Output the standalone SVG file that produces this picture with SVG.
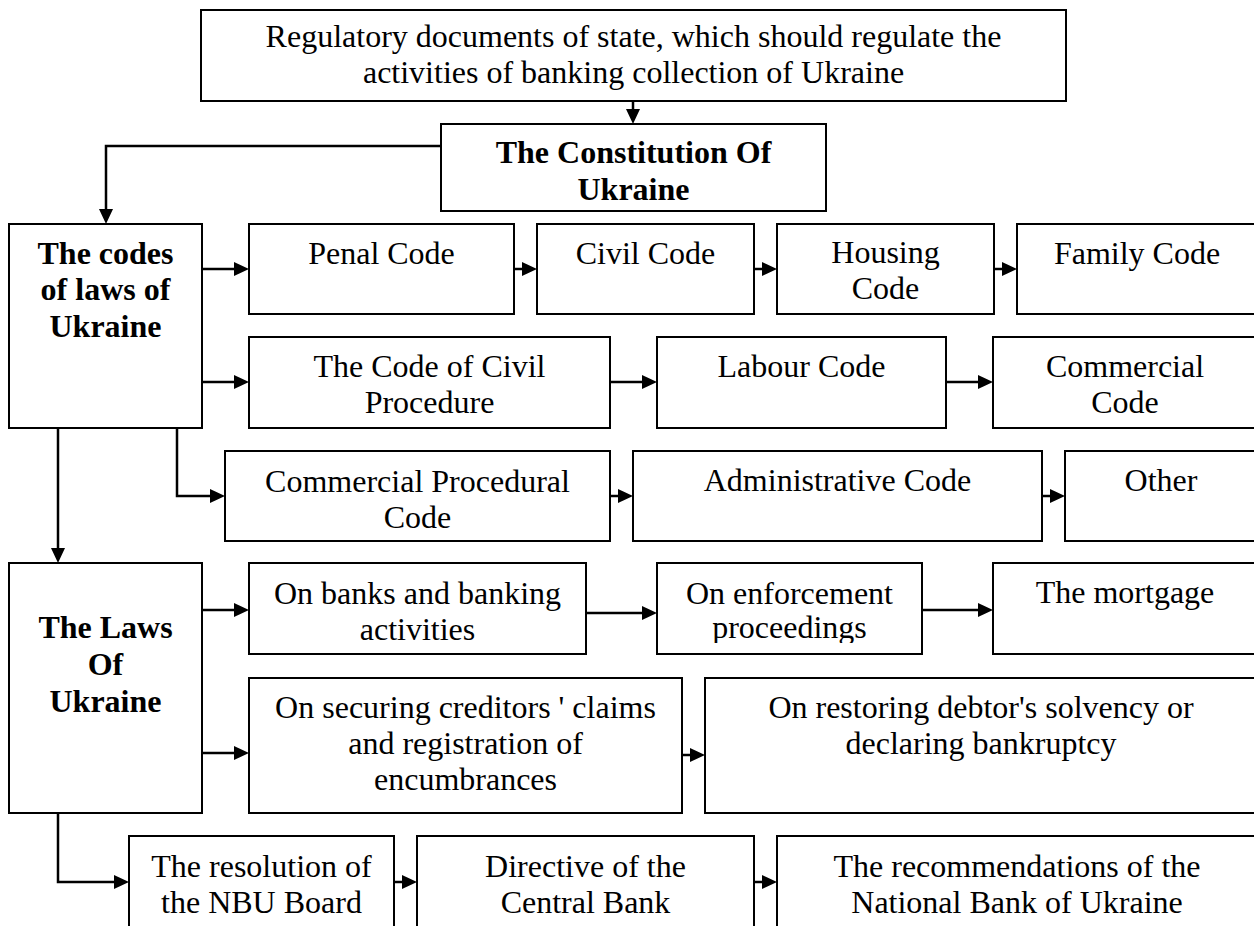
<svg xmlns="http://www.w3.org/2000/svg" width="1254" height="926" viewBox="0 0 1254 926">
<style>
  .box { fill: #fff; stroke: #000; stroke-width: 2; }
  .t { font-family: "Liberation Serif", "Times New Roman", serif; font-size: 32px; fill: #000; text-anchor: middle; }
  .b { font-weight: bold; }
  .c { fill: none; stroke: #000; stroke-width: 2.5; marker-end: url(#ah); }
</style>
<defs>
  <marker id="ah" markerWidth="15" markerHeight="14" refX="5" refY="7" orient="auto" markerUnits="userSpaceOnUse">
    <path d="M0,0 L15,7 L0,14 Z" fill="#000"/>
  </marker>
  <clipPath id="clipEnf"><rect x="657" y="563" width="265" height="80"/></clipPath>
</defs>
<rect width="1254" height="926" fill="#fff"/>

<g id="connectors">
  <path class="c" d="M633,101 V114"/>
  <path class="c" d="M441,146 H106 V214"/>
  <path class="c" d="M202,269 H239"/>
  <path class="c" d="M514,269 H527"/>
  <path class="c" d="M754,269 H767"/>
  <path class="c" d="M994,269 H1007"/>
  <path class="c" d="M202,382 H239"/>
  <path class="c" d="M610,382 H647"/>
  <path class="c" d="M946,382 H983"/>
  <path class="c" d="M177,428 V496 H215"/>
  <path class="c" d="M610,496 H623"/>
  <path class="c" d="M1042,496 H1055"/>
  <path class="c" d="M58,428 V553"/>
  <path class="c" d="M202,610 H239"/>
  <path class="c" d="M586,613 H647"/>
  <path class="c" d="M922,610 H983"/>
  <path class="c" d="M202,753 H239"/>
  <path class="c" d="M682,755 H695"/>
  <path class="c" d="M58,813 V882 H119"/>
  <path class="c" d="M394,882 H407"/>
  <path class="c" d="M754,882 H767"/>
</g>

<g id="n-top">
  <rect class="box" x="201" y="10" width="865" height="91"/>
  <text class="t" x="633.5" y="47">Regulatory documents of state, which should regulate the</text>
  <text class="t" x="633.5" y="83">activities of banking collection of Ukraine</text>
</g>
<g id="n-constitution">
  <rect class="box" x="441" y="124" width="385" height="87"/>
  <text class="t b" x="633.5" y="163">The Constitution Of</text>
  <text class="t b" x="633.5" y="200">Ukraine</text>
</g>
<g id="n-codes">
  <rect class="box" x="9" y="224" width="193" height="204"/>
  <text class="t b" x="105.5" y="264">The codes</text>
  <text class="t b" x="105.5" y="300">of laws of</text>
  <text class="t b" x="105.5" y="337">Ukraine</text>
</g>
<g id="n-penal">
  <rect class="box" x="249" y="224" width="265" height="90"/>
  <text class="t" x="381.5" y="264">Penal Code</text>
</g>
<g id="n-civil">
  <rect class="box" x="537" y="224" width="217" height="90"/>
  <text class="t" x="645.5" y="264">Civil Code</text>
</g>
<g id="n-housing">
  <rect class="box" x="777" y="224" width="217" height="90"/>
  <text class="t" x="885.5" y="263">Housing</text>
  <text class="t" x="885.5" y="299">Code</text>
</g>
<g id="n-family">
  <rect class="box" x="1017" y="224" width="245" height="90"/>
  <text class="t" x="1137" y="264">Family Code</text>
</g>
<g id="n-civil-procedure">
  <rect class="box" x="249" y="337" width="361" height="91"/>
  <text class="t" x="429.5" y="377">The Code of Civil</text>
  <text class="t" x="429.5" y="413">Procedure</text>
</g>
<g id="n-labour">
  <rect class="box" x="657" y="337" width="289" height="91"/>
  <text class="t" x="801.5" y="377">Labour Code</text>
</g>
<g id="n-commercial">
  <rect class="box" x="993" y="337" width="269" height="91"/>
  <text class="t" x="1125" y="377">Commercial</text>
  <text class="t" x="1125" y="413">Code</text>
</g>
<g id="n-commercial-procedural">
  <rect class="box" x="225" y="451" width="385" height="90"/>
  <text class="t" x="417.5" y="492">Commercial Procedural</text>
  <text class="t" x="417.5" y="528">Code</text>
</g>
<g id="n-administrative">
  <rect class="box" x="633" y="451" width="409" height="90"/>
  <text class="t" x="837.5" y="491">Administrative Code</text>
</g>
<g id="n-other">
  <rect class="box" x="1065" y="451" width="197" height="90"/>
  <text class="t" x="1161" y="491">Other</text>
</g>
<g id="n-laws">
  <rect class="box" x="9" y="563" width="193" height="250"/>
  <text class="t b" x="105.5" y="638">The Laws</text>
  <text class="t b" x="105.5" y="675">Of</text>
  <text class="t b" x="105.5" y="712">Ukraine</text>
</g>
<g id="n-banks">
  <rect class="box" x="249" y="563" width="337" height="91"/>
  <text class="t" x="417.5" y="604">On banks and banking</text>
  <text class="t" x="417.5" y="640">activities</text>
</g>
<g id="n-enforcement">
  <rect class="box" x="657" y="563" width="265" height="91"/>
  <g clip-path="url(#clipEnf)">
    <text class="t" x="789.5" y="604">On enforcement</text>
    <text class="t" x="789.5" y="638">proceedings</text>
  </g>
</g>
<g id="n-mortgage">
  <rect class="box" x="993" y="563" width="269" height="91"/>
  <text class="t" x="1125" y="603">The mortgage</text>
</g>
<g id="n-securing">
  <rect class="box" x="249" y="678" width="433" height="135"/>
  <text class="t" x="465.5" y="718">On securing creditors ' claims</text>
  <text class="t" x="465.5" y="754">and registration of</text>
  <text class="t" x="465.5" y="790">encumbrances</text>
</g>
<g id="n-restoring">
  <rect class="box" x="705" y="678" width="557" height="135"/>
  <text class="t" x="981" y="718">On restoring debtor's solvency or</text>
  <text class="t" x="981" y="754">declaring bankruptcy</text>
</g>
<g id="n-nbu">
  <rect class="box" x="129" y="836" width="265" height="100"/>
  <text class="t" x="261.5" y="877">The resolution of</text>
  <text class="t" x="261.5" y="913">the NBU Board</text>
</g>
<g id="n-directive">
  <rect class="box" x="417" y="836" width="337" height="100"/>
  <text class="t" x="585.5" y="877">Directive of the</text>
  <text class="t" x="585.5" y="913">Central Bank</text>
</g>
<g id="n-recommendations">
  <rect class="box" x="777" y="836" width="485" height="100"/>
  <text class="t" x="1017" y="877">The recommendations of the</text>
  <text class="t" x="1017" y="913">National Bank of Ukraine</text>
</g>
</svg>
